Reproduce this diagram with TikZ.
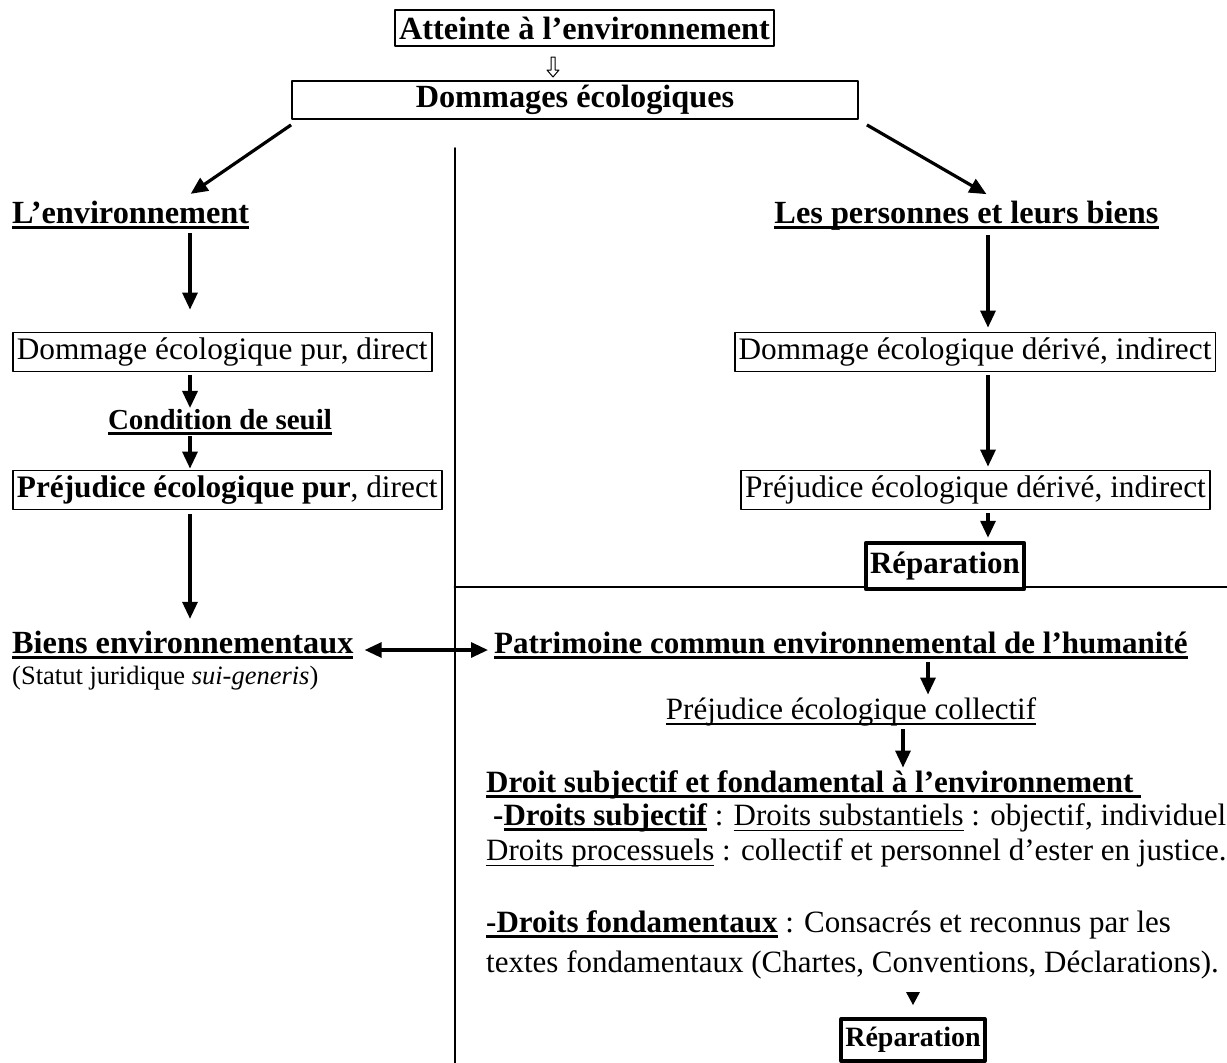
\documentclass[tikz,border=0pt]{standalone}
\usepackage{fontspec}
\setmainfont{Liberation Serif}
\usetikzlibrary{arrows.meta,calc,positioning}
\newsavebox\ulbox
\newcommand\ulx[2][2.8pt]{\leavevmode\sbox\ulbox{#2}\rlap{\rule[-5.5pt]{\wd\ulbox}{#1}}\usebox\ulbox}
\newcommand\mainsize{\fontsize{31}{36}\selectfont}
\newcommand\headsize{\fontsize{32.3}{37}\selectfont}
\begin{document}
\begin{tikzpicture}[x=1pt,y=-1pt,>=Latex,line cap=round,line join=round]
\useasboundingbox (0,0) rectangle (1227,1063);
\tikzset{txt/.style={inner sep=0pt,font=\mainsize},head/.style={inner sep=0pt,font=\headsize\bfseries},box/.style={draw,line width=1.8pt,inner xsep=4pt,inner ysep=0pt,minimum height=39pt,font=\mainsize},repbox/.style={draw,fill=white,line width=4.5pt,inner xsep=4pt,inner ysep=0pt,font=\mainsize\bfseries},arr/.style={line width=3.2pt,line cap=butt,-{Triangle[length=17pt,width=15pt]}},sep/.style={line width=1.8pt}}
\draw[sep] (455,148) -- (455,1063);
\draw[line width=2.8pt] (455,587) -- (1227,587);
\node[box,minimum height=36pt,font=\headsize] (att) at (584.5,28) {\bfseries Atteinte à l’environnement};
\node[box,minimum width=566pt,minimum height=38pt,font=\headsize] (dom) at (575,100) {\bfseries Dommages écologiques};
\node[head,anchor=west] (lenv) at (12,215) {\ulx{L’environnement}};
\node[head] (pers) at (966.5,216) {\ulx{Les personnes et leurs biens}};
\node[box,anchor=west,font=\fontsize{31.3}{36}\selectfont] (dpur) at (12,352) {Dommage écologique pur, direct};
\node[txt,font=\fontsize{29}{34}\selectfont] (seuil) at (220,422) {\bfseries\ulx{Condition de seuil}};
\node[box,anchor=west,font=\fontsize{31.3}{36}\selectfont] (ppur) at (12,490) {\textbf{Préjudice écologique pur}, direct};
\node[box,font=\fontsize{31.3}{36}\selectfont] (dder) at (975,352) {Dommage écologique dérivé, indirect};
\node[box,font=\fontsize{31.3}{36}\selectfont] (pder) at (975.5,490) {Préjudice écologique dérivé, indirect};
\node[repbox,minimum height=46pt] (rep1) at (945,566) {Réparation};
\node[head,anchor=west] (biens) at (12,645) {\ulx{Biens environnementaux}};
\node[txt,anchor=west,font=\fontsize{26.5}{30}\selectfont] (statut) at (12,678) {(Statut juridique \textit{sui-generis})};
\node[txt,anchor=west] (patr) at (494,645) {\bfseries\ulx{Patrimoine commun environnemental de l’humanité}};
\node[txt] (pcoll) at (851,712) {\ulx[1.6pt]{Préjudice écologique collectif}};
\node[txt,anchor=west] (droit) at (486,785) {\bfseries\ulx{Droit subjectif et fondamental à l’environnement }};
\node[txt,anchor=west] (dsubj) at (486,818) {\hspace*{7pt}\textbf{-\ulx{Droits subjectif}} : \ulx[1.6pt]{Droits substantiels} : objectif, individuel};
\node[txt,anchor=west] (dproc) at (486,853) {\ulx[1.6pt]{Droits processuels} : collectif et personnel d’ester en justice.};
\node[txt,anchor=west] (dfond) at (486,925) {\textbf{\ulx{-Droits fondamentaux}} : Consacrés et reconnus par les};
\node[txt,anchor=west] (textes) at (486,965) {textes fondamentaux (Chartes, Conventions, Déclarations).};
\node[repbox,line width=4pt,minimum height=42pt,font=\fontsize{28}{32}\selectfont\bfseries] (rep2) at (913,1040) {Réparation};
\coordinate (colL) at (190,0);
\coordinate (colR) at (988,0);
\draw[line width=1pt] (551,57) -- ++(0,13) -- ++(-4,0) -- ++(6,7) -- ++(6,-7) -- ++(-4,0) -- ++(0,-13) -- cycle;
\draw[arr] ([yshift=-5pt]dom.south west) -- ([xshift=60pt,yshift=7pt]lenv.north);
\draw[arr] ([xshift=8pt,yshift=-5pt]dom.south east) -- ([xshift=20pt,yshift=7pt]pers.north);
\draw[arr,shorten <=4pt,shorten >=22pt] (lenv.south -| colL) -- (dpur.north -| colL);
\draw[arr,shorten <=3pt,shorten >=1pt] (dpur.south -| colL) -- (seuil.north -| colL);
\draw[arr,shorten <=1pt,shorten >=1pt] (seuil.south -| colL) -- (ppur.north -| colL);
\draw[arr,shorten <=4pt,shorten >=12pt] (ppur.south -| colL) -- (biens.north -| colL);
\draw[arr,shorten <=4pt,shorten >=4pt] (pers.south -| colR) -- (dder.north -| colR);
\draw[arr,shorten <=3pt,shorten >=3pt] (dder.south -| colR) -- (pder.north -| colR);
\draw[arr,shorten <=3pt,shorten >=3pt] (pder.south -| colR) -- (rep1.north -| colR);
\draw[arr,{Triangle[length=17pt,width=15pt]}-{Triangle[length=17pt,width=15pt]}] ([xshift=11pt,yshift=-5pt]biens.east) -- ([xshift=-6pt,yshift=-5pt]patr.west);
\draw[arr,shorten <=3pt,shorten >=3pt] (patr.south -| 928,0) -- (pcoll.north -| 928,0);
\draw[arr,shorten <=3pt,shorten >=3pt] (pcoll.south -| 903,0) -- (droit.north -| 903,0);
\fill ([xshift=-7pt,yshift=25pt]rep2.north) -- ++(14,0) -- ++(-7,13) -- cycle;
\end{tikzpicture}
\end{document}
